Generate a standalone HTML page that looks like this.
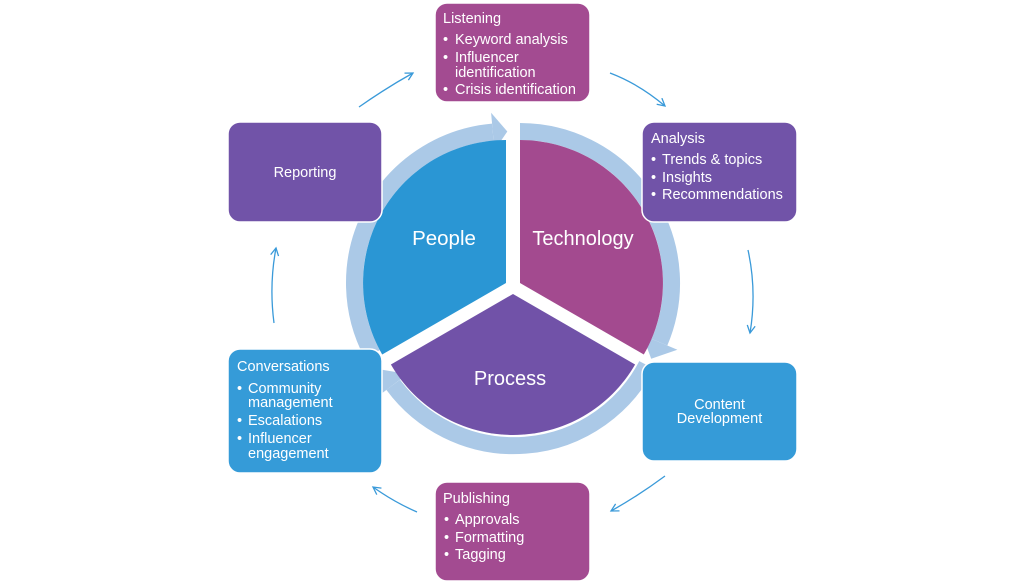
<!DOCTYPE html>
<html>
<head>
<meta charset="utf-8">
<style>
  html, body { margin: 0; padding: 0; background: #ffffff; }
  body { width: 1024px; height: 584px; overflow: hidden; }
  svg { display: block; }
  text { font-family: "Liberation Sans", Arial, sans-serif; fill: #ffffff; }
</style>
</head>
<body>
<svg width="1024" height="584" viewBox="0 0 1024 584" xmlns="http://www.w3.org/2000/svg">
  <defs>
    <marker id="ah" markerUnits="userSpaceOnUse" markerWidth="12" markerHeight="12" refX="8" refY="4.5" orient="auto">
      <path d="M0.5,0.5 L8,4.5 L0.5,8.5" fill="none" stroke="#3a9ad9" stroke-width="1.3"/>
    </marker>
  </defs>

  <!-- Ring arrows -->
  <!-- People ring -->
  <path d="M372.2,354.1 A151.5,151.5 0 0 1 492.8,132.1" fill="none" stroke="#abc9e7" stroke-width="17"/>
  <polygon points="494.4,150.5 491.1,112.7 507.3,131.5" fill="#abc9e7"/>
  <!-- Technology ring -->
  <path d="M520,131.5 A151.5,151.5 0 0 1 659.5,342.2" fill="none" stroke="#abc9e7" stroke-width="17"/>
  <polygon points="642.4,335 677.4,349.8 651.2,358.8" fill="#abc9e7"/>
  <!-- Process ring -->
  <path d="M646.8,365.1 A150,150 0 0 1 393.2,384.8" fill="none" stroke="#abc9e7" stroke-width="17"/>
  <polygon points="407.5,374 377.2,396.8 382.3,369.8" fill="#abc9e7"/>

  <!-- Wedges -->
  <path d="M506,283 L506,140 A143,143 0 0 0 382.2,354.5 Z" fill="#2a96d4"/>
  <path d="M520,283 L520,140 A143,143 0 0 1 643.8,354.5 Z" fill="#a34a8f"/>
  <path d="M513,294 L390.9,364.5 A141,141 0 0 0 635.1,364.5 Z" fill="#7152a8"/>

  <text x="444" y="245" font-size="20.5" text-anchor="middle">People</text>
  <text x="583" y="245" font-size="20" text-anchor="middle">Technology</text>
  <text x="510" y="385" font-size="20" text-anchor="middle">Process</text>

  <!-- Connectors -->
  <g fill="none" stroke="#3a9ad9" stroke-width="1.3">
    <path d="M359,107 Q386,88 413,73" marker-end="url(#ah)"/>
    <path d="M610,73 Q639,84 665,106" marker-end="url(#ah)"/>
    <path d="M748,250 Q757,291 750,333" marker-end="url(#ah)"/>
    <path d="M665,476 Q638,496 611,511" marker-end="url(#ah)"/>
    <path d="M417,512 Q394,502 373,487" marker-end="url(#ah)"/>
    <path d="M274,323 Q269,285 276,248" marker-end="url(#ah)"/>
  </g>

  <!-- Boxes -->
  <g stroke="#ffffff" stroke-width="1.5">
    <rect x="435" y="3" width="155" height="99" rx="12" fill="#a34b91"/>
    <rect x="642" y="122" width="155" height="100" rx="12" fill="#7153a8"/>
    <rect x="642" y="362" width="155" height="99" rx="12" fill="#359bd8"/>
    <rect x="435" y="482" width="155" height="99" rx="12" fill="#a34b91"/>
    <rect x="228" y="349" width="154" height="124" rx="12" fill="#359bd8"/>
    <rect x="228" y="122" width="154" height="100" rx="12" fill="#7153a8"/>
  </g>

  <g font-size="14.5">
    <!-- Listening -->
    <text x="443" y="23">Listening</text>
    <text x="443" y="44">•</text><text x="455" y="44">Keyword analysis</text>
    <text x="443" y="62">•</text><text x="455" y="62">Influencer</text>
    <text x="455" y="77">identification</text>
    <text x="443" y="94">•</text><text x="455" y="94">Crisis identification</text>

    <!-- Analysis -->
    <text x="651" y="143">Analysis</text>
    <text x="651" y="164">•</text><text x="662" y="164">Trends &amp; topics</text>
    <text x="651" y="182">•</text><text x="662" y="182">Insights</text>
    <text x="651" y="199">•</text><text x="662" y="199">Recommendations</text>

    <!-- Content Development -->
    <text x="719.5" y="409" text-anchor="middle">Content</text>
    <text x="719.5" y="423" text-anchor="middle">Development</text>

    <!-- Publishing -->
    <text x="443" y="503">Publishing</text>
    <text x="444" y="524">•</text><text x="455" y="524">Approvals</text>
    <text x="444" y="542">•</text><text x="455" y="542">Formatting</text>
    <text x="444" y="559">•</text><text x="455" y="559">Tagging</text>

    <!-- Conversations -->
    <text x="237" y="371">Conversations</text>
    <text x="237" y="393">•</text><text x="248" y="393">Community</text>
    <text x="248" y="407">management</text>
    <text x="237" y="425">•</text><text x="248" y="425">Escalations</text>
    <text x="237" y="443">•</text><text x="248" y="443">Influencer</text>
    <text x="248" y="458">engagement</text>

    <!-- Reporting -->
    <text x="305" y="177" text-anchor="middle">Reporting</text>
  </g>
</svg>
</body>
</html>
